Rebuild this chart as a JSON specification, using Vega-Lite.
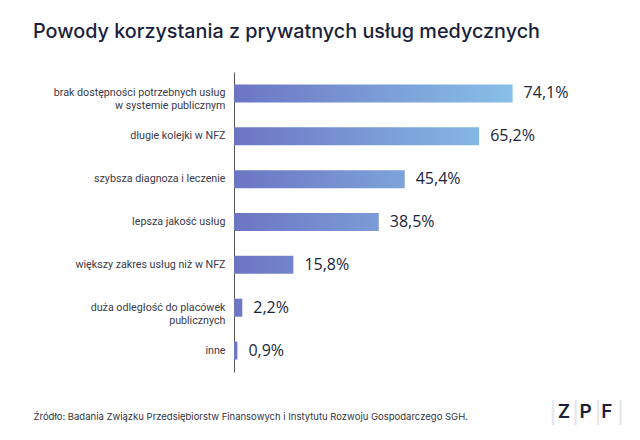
{
  "$schema": "https://vega.github.io/schema/vega-lite/v6.json",
  "autosize": {"type": "none"},
  "padding": {"left": 234, "top": 72, "right": 30, "bottom": 68},
  "width": 376,
  "height": 300,
  "background": "white",
  "title": {
    "text": "Powody korzystania z prywatnych usług medycznych",
    "anchor": "start",
    "frame": "group",
    "dx": -201,
    "baseline": "alphabetic",
    "offset": 14,
    "font": "Inter",
    "fontSize": 19.8,
    "fontWeight": 500,
    "color": "#1b1f3b"
  },
  "data": {
    "values": [
      {"reason": "brak dostępności potrzebnych usług|w systemie publicznym", "value": 74.1, "label": "74,1%"},
      {"reason": "długie kolejki w NFZ", "value": 65.2, "label": "65,2%"},
      {"reason": "szybsza diagnoza i leczenie", "value": 45.4, "label": "45,4%"},
      {"reason": "lepsza jakość usług", "value": 38.5, "label": "38,5%"},
      {"reason": "większy zakres usług niż w NFZ", "value": 15.8, "label": "15,8%"},
      {"reason": "duża odległość do placówek|publicznych", "value": 2.2, "label": "2,2%"},
      {"reason": "inne", "value": 0.9, "label": "0,9%"}
    ]
  },
  "encoding": {
    "y": {
      "field": "reason",
      "type": "nominal",
      "sort": null,
      "scale": {"paddingInner": 0.58, "paddingOuter": 0.29},
      "axis": {
        "title": null,
        "ticks": false,
        "labelExpr": "split(datum.value, '|')",
        "labelFont": "Roboto",
        "labelFontSize": 10.7,
        "labelLimit": 0,
        "labelColor": "#3a3a4a",
        "labelPadding": 9,
        "labelLineHeight": 13,
        "domainColor": "#555555",
        "domainWidth": 1
      }
    }
  },
  "layer": [
    {
      "layer": [
        {
          "mark": {"type": "bar"},
          "encoding": {
            "x": {
              "field": "value",
              "type": "quantitative",
              "scale": {"domain": [0, 100]},
              "axis": {
                "domain": false, "ticks": false, "labels": false, "grid": false,
                "title": "Źródło: Badania Związku Przedsiębiorstw Finansowych i Instytutu Rozwoju Gospodarczego SGH.",
                "titleFont": "Inter", "titleFontSize": 9.5, "titleFontWeight": "normal", "titleColor": "#333340",
                "titleAnchor": "start", "titleAlign": "left", "titleX": -201, "titleY": 47, "titleBaseline": "alphabetic"
              }
            },
            "color": {
              "condition": [
                {"test": "datum.value > 70", "value": {"gradient": "linear", "x1": 0, "x2": 1, "y1": 0, "y2": 0, "stops": [{"offset": 0, "color": "#6c75c3"}, {"offset": 1, "color": "#88c0e8"}]}},
                {"test": "datum.value > 60", "value": {"gradient": "linear", "x1": 0, "x2": 1, "y1": 0, "y2": 0, "stops": [{"offset": 0, "color": "#6c75c3"}, {"offset": 1, "color": "#85b7e4"}]}},
                {"test": "datum.value > 40", "value": {"gradient": "linear", "x1": 0, "x2": 1, "y1": 0, "y2": 0, "stops": [{"offset": 0, "color": "#6c75c3"}, {"offset": 1, "color": "#7da3da"}]}},
                {"test": "datum.value > 30", "value": {"gradient": "linear", "x1": 0, "x2": 1, "y1": 0, "y2": 0, "stops": [{"offset": 0, "color": "#6c75c3"}, {"offset": 1, "color": "#7b9cd6"}]}},
                {"test": "datum.value > 10", "value": {"gradient": "linear", "x1": 0, "x2": 1, "y1": 0, "y2": 0, "stops": [{"offset": 0, "color": "#6c75c3"}, {"offset": 1, "color": "#7285cb"}]}}
              ],
              "value": "#6d77c4"
            }
          }
        },
        {
          "mark": {"type": "text", "align": "left", "dx": 11, "font": "Open Sans", "fontSize": 16, "color": "#1b1f3b"},
          "encoding": {
            "x": {"field": "value", "type": "quantitative"},
            "text": {"field": "label"}
          }
        }
      ]
    },
    {
      "mark": {"type": "bar", "opacity": 0},
      "encoding": {
        "x": {
          "field": "value",
          "type": "quantitative",
          "axis": {
            "orient": "top",
            "domain": false, "ticks": false, "labels": false, "grid": false,
            "title": "Z\u2002P\u2002F",
            "titleFont": "Inter", "titleFontSize": 19, "titleFontWeight": 600, "titleColor": "#1b1f3b",
            "titleAnchor": "end", "titleAlign": "right", "titleX": 378, "titleY": 345, "titleBaseline": "alphabetic"
          }
        },
        "y": {
          "field": "reason",
          "type": "nominal",
          "sort": null,
          "axis": {
            "orient": "right",
            "domain": false, "ticks": false, "labels": false, "grid": false,
            "title": "|\u2002\u200a|\u2002\u200a|\u2002\u200a|",
            "titleAngle": 0,
            "titleFont": "DejaVu Sans", "titleFontSize": 24, "titleFontWeight": "normal", "titleColor": "#e4e6ec",
            "titleAnchor": "start", "titleAlign": "right", "titleX": 14, "titleY": 346, "titleBaseline": "alphabetic"
          }
        }
      }
    }
  ],
  "resolve": {"scale": {"x": "independent"}, "axis": {"y": "independent"}},
  "config": {"view": {"stroke": null}}
}
